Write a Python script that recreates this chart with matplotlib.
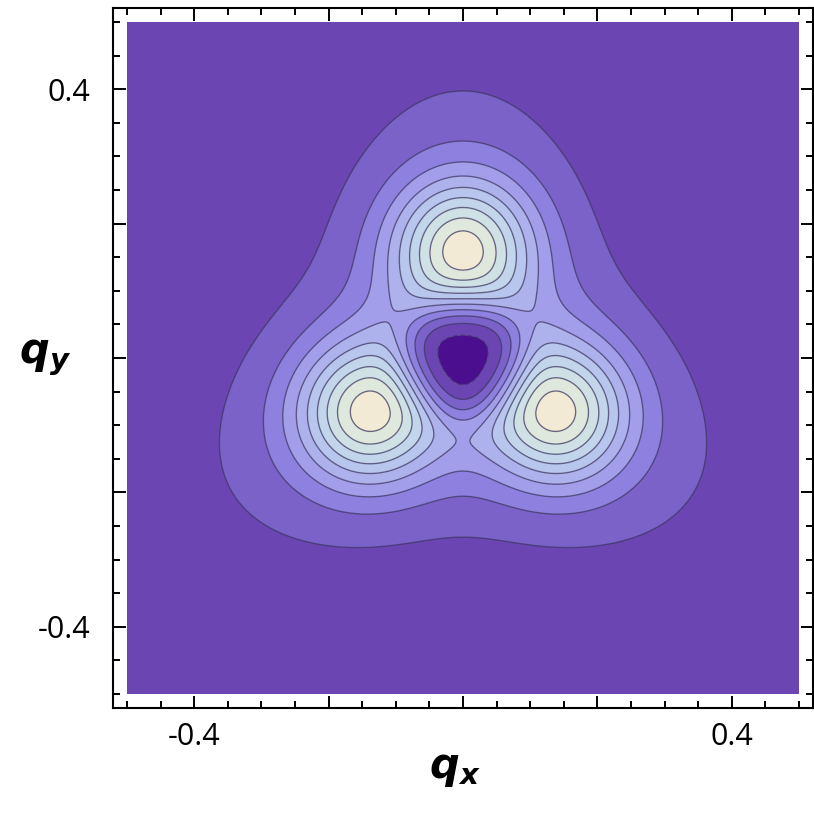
import matplotlib
matplotlib.use("Agg")
import matplotlib.pyplot as plt
import numpy as np
from matplotlib.patches import Rectangle
from matplotlib.ticker import MultipleLocator, FixedLocator

# shape parameters: a rounded-triangle skirt,
# three peaks on it and a dip in the middle
skirt_height = 3.69
skirt_width = 0.2395
skirt_power = 2.5
skirt_warp = 0.2
peak_angles_deg = [90, 210, 330]
peak_radius = 0.165
peak_height = 6.2
peak_sigma = 0.0674
dip_depth = 5.6
dip_width = 0.0915
dip_power = 3.3

# contour levels and band colours (low -> high)
contour_levels = [-0.5, 0.5, 1.5, 2.5, 3.5, 4.5, 5.5, 6.5, 7.5, 8.5]
band_colors = ['#4b0e8e', '#6b46b3', '#7a62c9', '#8d80de', '#a29eea',
               '#aeb2ec', '#b8c5ec', '#c3d5ea', '#cfe1e5', '#dfe8dc', '#f2ead5']

major_ticks = [-0.4, -0.2, 0.0, 0.2, 0.4]
tick_labels = ['-0.4', '', '', '', '0.4']

q = np.linspace(-0.5, 0.5, 800)
qx, qy = np.meshgrid(q, q)
r = np.hypot(qx, qy)
theta = np.arctan2(qy, qx)

rho = r * (1 - skirt_warp * np.cos(3 * (theta - np.pi / 2)))
field = skirt_height * np.exp(-(rho / skirt_width) ** skirt_power)
for a in np.deg2rad(peak_angles_deg):
    d2 = (qx - peak_radius * np.cos(a)) ** 2 + (qy - peak_radius * np.sin(a)) ** 2
    field += peak_height * np.exp(-d2 / (2 * peak_sigma ** 2))
field -= dip_depth * np.exp(-(r / dip_width) ** dip_power)

fig = plt.figure(figsize=(8.14, 8.19), dpi=100)
ax = fig.add_axes([113 / 814, 111 / 819, 700 / 814, 700 / 819])

# backdrop under the filled bands so no seams show between them
ax.add_patch(Rectangle((q.min(), q.min()), q.max() - q.min(), q.max() - q.min(),
                       facecolor=band_colors[1], edgecolor='none', zorder=0))
edges = [field.min() - 1] + contour_levels + [field.max() + 1]
ax.contourf(qx, qy, field, levels=edges, colors=band_colors, antialiased=True,
            zorder=1)
ax.contour(qx, qy, field, levels=contour_levels, colors=[(0.22, 0.2, 0.35)],
           linewidths=1.0, alpha=0.65, antialiased=True, zorder=2)

ax.set_xlim(-0.521, 0.521)
ax.set_ylim(-0.521, 0.521)

for s in ax.spines.values():
    s.set_linewidth(1.5)

ax.xaxis.set_major_locator(FixedLocator(major_ticks))
ax.yaxis.set_major_locator(FixedLocator(major_ticks))
ax.xaxis.set_minor_locator(MultipleLocator(0.05))
ax.yaxis.set_minor_locator(MultipleLocator(0.05))
ax.set_xticklabels(tick_labels)
ax.set_yticklabels(tick_labels)
ax.tick_params(which='both', direction='in', top=True, right=True, width=1.4)
ax.tick_params(which='major', length=9)
ax.tick_params(which='minor', length=5)
ax.tick_params(axis='x', labelsize=22, pad=10)
ax.tick_params(axis='y', labelsize=22, pad=16)
for lab in ax.get_xticklabels() + ax.get_yticklabels():
    lab.set_family('Open Sans')

fig.text(455 / 814, 1 - 768 / 819, r'$\mathbfit{q}_{\mathbfit{x}}$', fontsize=30,
         ha='center', va='center')
fig.text(45 / 814, 1 - 357 / 819, r'$\mathbfit{q}_{\mathbfit{y}}$', fontsize=30,
         ha='center', va='center')

fig.savefig('out.png', dpi=100)
